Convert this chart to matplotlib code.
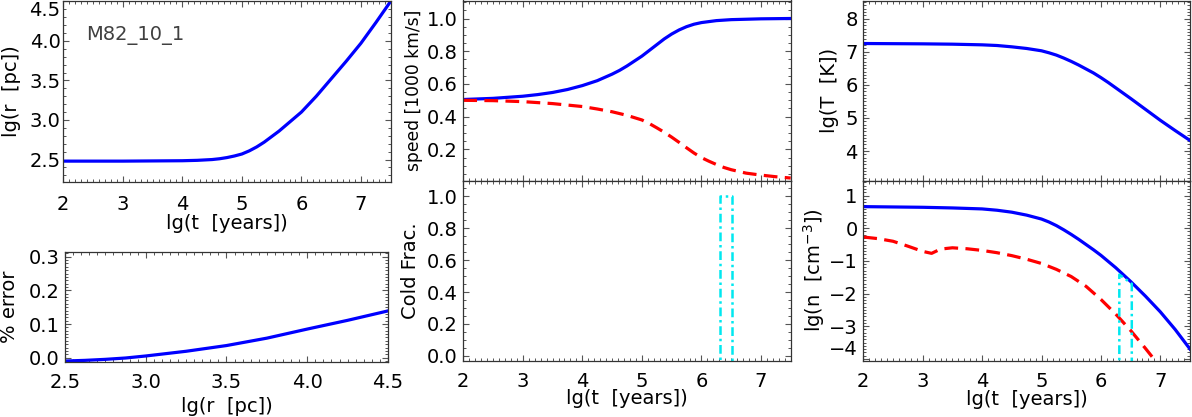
import numpy as np
import matplotlib
matplotlib.use("Agg")
import matplotlib.pyplot as plt
from matplotlib.ticker import MultipleLocator, AutoMinorLocator, FormatStrFormatter

# ---- data ----
lgt_r = [2.0, 3.0, 4.0, 4.25, 4.5, 4.625, 4.75, 4.875, 5.0, 5.125, 5.25, 5.375, 5.5, 5.625,
         5.75, 5.875, 6.0, 6.125, 6.25, 6.375, 6.5, 6.625, 6.75, 6.875, 7.0, 7.125, 7.25, 7.375, 7.5]
lgr = [2.48, 2.48, 2.485, 2.49, 2.50, 2.51, 2.525, 2.545, 2.57, 2.61, 2.66, 2.72, 2.79, 2.86,
       2.94, 3.02, 3.10, 3.20, 3.30, 3.41, 3.52, 3.63, 3.74, 3.855, 3.97, 4.10, 4.23, 4.365, 4.50]

lgr_err = [2.5, 2.625, 2.75, 2.875, 3.0, 3.25, 3.5, 3.75, 4.0, 4.25, 4.5]
pct_err = [-0.010, -0.008, -0.005, -0.001, 0.005, 0.019, 0.036, 0.058, 0.085, 0.111, 0.139]

lgt_v = [2.0, 2.5, 3.0, 3.25, 3.5, 3.75, 4.0, 4.25, 4.5, 4.625, 4.75, 4.875, 5.0, 5.125, 5.25,
         5.375, 5.5, 5.625, 5.75, 5.875, 6.0, 6.25, 6.5, 7.0, 7.5]
v_hot = [0.505, 0.512, 0.525, 0.535, 0.548, 0.566, 0.59, 0.62, 0.66, 0.683, 0.71, 0.74, 0.77, 0.805, 0.84,
         0.875, 0.905, 0.93, 0.95, 0.965, 0.975, 0.987, 0.993, 0.998, 1.0]
lgt_vc = [2.0, 2.5, 3.0, 3.5, 4.0, 4.25, 4.5, 4.75, 5.0, 5.125, 5.25, 5.375, 5.5, 5.625, 5.75,
          5.875, 6.0, 6.125, 6.25, 6.375, 6.5, 6.75, 7.0, 7.25, 7.5]
v_cold = [0.500, 0.498, 0.492, 0.480, 0.462, 0.447, 0.430, 0.408, 0.380, 0.358, 0.332, 0.305, 0.275, 0.243, 0.210,
          0.178, 0.150, 0.128, 0.108, 0.090, 0.076, 0.055, 0.043, 0.033, 0.025]

lgt_T = [2.0, 3.0, 3.5, 4.0, 4.25, 4.5, 4.75, 5.0, 5.125, 5.25, 5.375, 5.5, 5.625, 5.75, 5.875,
         6.0, 6.125, 6.25, 6.375, 6.5, 6.75, 7.0, 7.25, 7.5]
lgT = [7.25, 7.24, 7.23, 7.21, 7.19, 7.15, 7.10, 7.03, 6.97, 6.90, 6.81, 6.71, 6.60, 6.48, 6.36,
       6.22, 6.07, 5.91, 5.75, 5.59, 5.26, 4.93, 4.62, 4.32]

lgt_n = [2.0, 3.0, 3.5, 4.0, 4.25, 4.5, 4.75, 5.0, 5.125, 5.25, 5.375, 5.5, 5.625, 5.75, 5.875,
         6.0, 6.25, 6.5, 6.75, 7.0, 7.25, 7.5]
lgn_hot = [0.66, 0.64, 0.62, 0.59, 0.55, 0.49, 0.40, 0.28, 0.19, 0.08, -0.05, -0.19, -0.34, -0.50, -0.66,
           -0.83, -1.21, -1.63, -2.08, -2.56, -3.10, -3.70]
lgt_nc = [2.0, 2.25, 2.5, 2.75, 3.0, 3.15, 3.3, 3.5, 3.75, 4.0, 4.25, 4.5, 4.75, 5.0, 5.25, 5.5,
          5.75, 6.0, 6.25, 6.5, 6.75, 7.0]
lgn_cold = [-0.27, -0.32, -0.40, -0.55, -0.71, -0.77, -0.64, -0.60, -0.63, -0.68, -0.75, -0.84, -0.95, -1.08, -1.26, -1.48,
            -1.78, -2.18, -2.63, -3.13, -3.68, -4.25]

# cold fraction switches on between these times
lgt_cf = [6.31, 6.31, 6.52, 6.52]
cold_frac = [-0.1, 1.0, 1.0, -0.1]
lgn_cf = [-5.0, -1.42, -1.70, -5.0]

label = "M82_10_1"

plt.rcParams["font.family"] = ["DejaVu Sans"]
plt.rcParams["font.size"] = 14
plt.rcParams["mathtext.default"] = "regular"

fig = plt.figure(figsize=(11.92, 4.17), dpi=100)
W, H = 1192.0, 417.0


def make_ax(l, r, t, b):
    return fig.add_axes([l / W, 1 - b / H, (r - l) / W, (b - t) / H])


ax_r = make_ax(63.3, 390.7, 0.5, 181.7)
ax_e = make_ax(65, 388, 251.7, 361.7)
ax_v = make_ax(463.3, 790.7, 0.5, 180.5)
ax_c = make_ax(463.3, 790.7, 180.5, 360.5)
ax_T = make_ax(863.3, 1190, 0.5, 180.5)
ax_n = make_ax(863.3, 1190, 180.5, 360.5)

blue = dict(color="blue", lw=2.3, solid_joinstyle="round")
red = dict(color="red", lw=2.3, linestyle=(0, (4.3, 2.3)))
cyan = dict(color="#00e8f0", lw=1.8, linestyle=(0, (3.5, 1.5, 1, 1.5)))

ax_r.plot(lgt_r, lgr, **blue)
ax_r.text(2.39, 4.07, label, color="#404040", fontsize=14, va="center", ha="left")
ax_e.plot(lgr_err, pct_err, **blue)
ax_v.plot(lgt_v, v_hot, **blue)
ax_v.plot(lgt_vc, v_cold, **red)
ax_c.plot(lgt_cf, cold_frac, **cyan)
ax_T.plot(lgt_T, lgT, **blue)
ax_n.plot(lgt_n, lgn_hot, **blue)
ax_n.plot(lgt_nc, lgn_cold, **red)
ax_n.plot(lgt_cf, lgn_cf, **cyan)

for ax in (ax_r, ax_v, ax_c, ax_T, ax_n):
    ax.set_xlim(2, 7.5)
    ax.set_xticks([2, 3, 4, 5, 6, 7])
    ax.xaxis.set_minor_locator(AutoMinorLocator(10))
ax_e.set_xlim(2.5, 4.5)
ax_e.set_xticks([2.5, 3.0, 3.5, 4.0, 4.5])
ax_e.xaxis.set_minor_locator(AutoMinorLocator(10))
ax_e.xaxis.set_major_formatter(FormatStrFormatter("%.1f"))

ax_r.set_ylim(2.22, 4.51)
ax_r.set_yticks([2.5, 3.0, 3.5, 4.0, 4.5])
ax_r.yaxis.set_minor_locator(AutoMinorLocator(5))
ax_r.yaxis.set_major_formatter(FormatStrFormatter("%.1f"))

ax_e.set_ylim(-0.012, 0.315)
ax_e.set_yticks([0.0, 0.1, 0.2, 0.3])
ax_e.yaxis.set_minor_locator(AutoMinorLocator(10))
ax_e.yaxis.set_major_formatter(FormatStrFormatter("%.1f"))

ax_v.set_ylim(0.01, 1.11)
ax_v.set_yticks([0.2, 0.4, 0.6, 0.8, 1.0])
ax_v.yaxis.set_minor_locator(AutoMinorLocator(4))
ax_v.yaxis.set_major_formatter(FormatStrFormatter("%.1f"))

ax_c.set_ylim(-0.03, 1.1)
ax_c.set_yticks([0.0, 0.2, 0.4, 0.6, 0.8, 1.0])
ax_c.yaxis.set_minor_locator(AutoMinorLocator(4))
ax_c.yaxis.set_major_formatter(FormatStrFormatter("%.1f"))

ax_T.set_ylim(3.11, 8.55)
ax_T.set_yticks([4, 5, 6, 7, 8])
ax_T.yaxis.set_minor_locator(AutoMinorLocator(10))

ax_n.set_ylim(-4.05, 1.46)
ax_n.set_yticks([-4, -3, -2, -1, 0, 1])
ax_n.yaxis.set_minor_locator(AutoMinorLocator(10))

for ax in (ax_r, ax_e, ax_v, ax_c, ax_T, ax_n):
    ax.tick_params(which="both", direction="in", top=True, right=True, color="#555555")
    ax.tick_params(which="major", length=4.5, width=0.8)
    ax.tick_params(which="minor", length=2.2, width=0.7)
    ax.tick_params(axis="y", pad=4)
    ax.tick_params(axis="x", pad=8)
    for s in ax.spines.values():
        s.set_color("#333333")
        s.set_linewidth(0.9)
ax_r.tick_params(axis="y", pad=2)
ax_r.tick_params(axis="x", pad=9.5)
ax_v.tick_params(labelbottom=False)
ax_T.tick_params(labelbottom=False)

# keep the end labels inside the figure like the original
ax_r.yaxis.get_major_ticks()[-1].label1.set_verticalalignment("top")
ax_n.yaxis.get_major_ticks()[0].label1.set_verticalalignment("bottom")

ax_r.set_xlabel("lg(t  [years])")
ax_r.set_ylabel("lg(r  [pc])")
ax_e.set_xlabel("lg(r  [pc])")
ax_e.set_ylabel("% error")
ax_v.set_ylabel("speed [1000 km/s]", fontsize=12.3)
ax_c.set_xlabel("lg(t  [years])")
ax_c.set_ylabel("Cold Frac.")
ax_T.set_ylabel("lg(T  [K])")
ax_n.set_xlabel("lg(t  [years])")
ax_n.set_ylabel("lg(n  [cm$^{-3}$])")

ax_r.yaxis.set_label_coords(-0.128, 0.5)
ax_e.yaxis.set_label_coords(-0.143, 0.5)
ax_v.yaxis.set_label_coords(-0.123, 0.5)
ax_c.yaxis.set_label_coords(-0.133, 0.5)
ax_T.yaxis.set_label_coords(-0.073, 0.5)
ax_n.yaxis.set_label_coords(-0.11, 0.5)

ax_r.xaxis.set_label_coords(0.5, -0.18)
ax_e.xaxis.set_label_coords(0.5, -0.32)
ax_c.xaxis.set_label_coords(0.5, -0.16)
ax_n.xaxis.set_label_coords(0.5, -0.165)

fig.savefig("out.png", dpi=100)
